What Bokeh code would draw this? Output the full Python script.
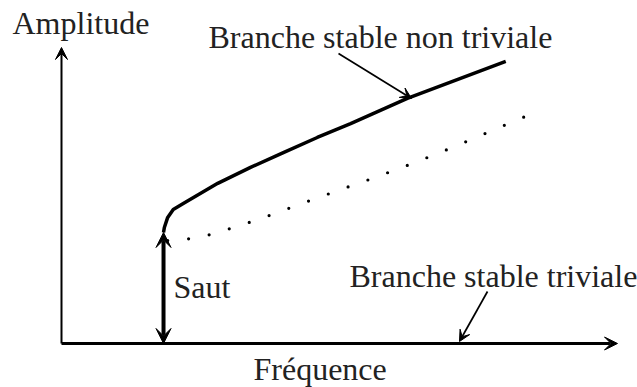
from bokeh.plotting import figure
from bokeh.models import Range1d, Arrow, VeeHead, ColumnDataSource
from bokeh.core.properties import value
from bokeh.embed import file_html
from bokeh.resources import INLINE

# ---- data (arbitrary units: frequency 0-100, amplitude 0-100) ----
freq_stable = [18.35, 18.5, 19.1, 20.1, 21.9, 28.1, 34.0, 39.9, 46.0, 52.0, 62.2, 79.9]
amp_stable = [37.5, 39.2, 42.6, 45.3, 47.3, 54.1, 59.5, 64.5, 69.6, 74.3, 82.8, 95.3]

freq_unstable = [19.1, 20.1, 24.1, 28.1, 35.4, 42.8, 50.2, 55.8, 63.1, 70.3, 77.5, 84.7]
amp_unstable = [34.8, 35.1, 35.5, 37.5, 41.9, 47.0, 52.0, 55.7, 60.8, 66.2, 72.0, 77.7]

axis_max = [100.0, 100.0]          # x tip, y tip
jump_freq = 18.35
jump_amp = [0.0, 37.5]

annot_nontriv = [49.82, 97.97, 62.95, 82.77]   # x0, y0, x1, y1
annot_triv = [76.62, 17.57, 71.58, 0.68]

label_text = ["Amplitude", "Branche stable non triviale", "Saut",
              "Branche stable triviale", "Fréquence"]
label_x = [-8.81, 26.44, 20.14, 51.80, 34.53]
label_y = [108.11, 103.38, 18.92, 22.97, -8.78]

# ---- figure ----
p = figure(width=637, height=387,
           x_range=Range1d(-10.971, 103.597), y_range=Range1d(-14.865, 115.878),
           output_backend="svg", toolbar_location=None, min_border=0,
           x_axis_location=None, y_axis_location=None)
p.grid.visible = False
p.outline_line_color = None
p.background_fill_color = "white"
p.border_fill_color = "white"

INK = "black"

# axes with arrows
p.add_layout(Arrow(x_start=0, y_start=0, x_end=axis_max[0], y_end=0,
                   line_width=3.2, line_color=INK,
                   end=VeeHead(size=13, fill_color=INK, line_color=INK, line_width=1)))
p.add_layout(Arrow(x_start=0, y_start=0, x_end=0, y_end=axis_max[1],
                   line_width=2, line_color=INK,
                   end=VeeHead(size=12, fill_color=INK, line_color=INK, line_width=1)))

# stable non-trivial branch
p.line(freq_stable, amp_stable, line_width=3.5, line_color=INK, line_join="round")

# unstable branch (dotted)
p.line(freq_unstable, amp_unstable, line_width=3.2, line_color=INK,
       line_dash="0 21", line_cap="round")

# jump arrow
p.add_layout(Arrow(x_start=jump_freq, y_start=jump_amp[0], x_end=jump_freq, y_end=jump_amp[1],
                   line_width=4, line_color=INK,
                   start=VeeHead(size=15, fill_color=INK, line_color=INK, line_width=1),
                   end=VeeHead(size=15, fill_color=INK, line_color=INK, line_width=1)))

# annotation arrows
for a in (annot_nontriv, annot_triv):
    p.add_layout(Arrow(x_start=a[0], y_start=a[1], x_end=a[2], y_end=a[3],
                       line_width=1.7, line_color=INK,
                       end=VeeHead(size=11, fill_color=INK, line_color=INK, line_width=1)))

src = ColumnDataSource(dict(x=label_x, y=label_y, t=label_text))
p.text(x="x", y="y", text="t", source=src,
       text_font=value("Liberation Serif"), text_font_size="32px",
       text_color="#222222", text_align="left", text_baseline="alphabetic")

open("out.html", "w").write(file_html(p, INLINE))
